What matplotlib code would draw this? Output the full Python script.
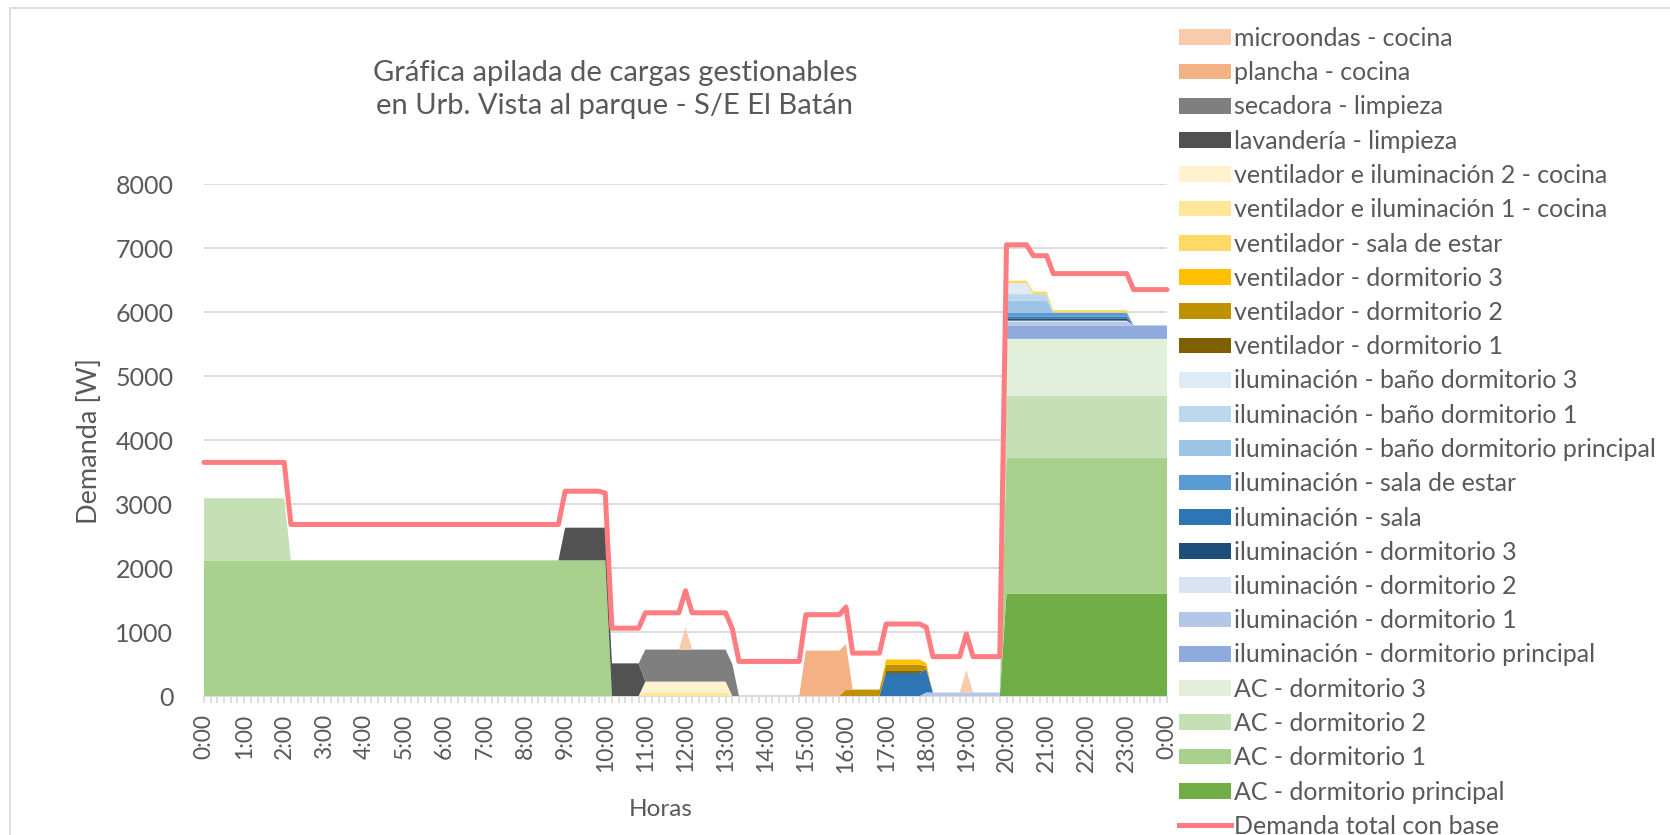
import matplotlib
matplotlib.use('Agg')
import matplotlib.pyplot as plt
from matplotlib.patches import Patch, Rectangle
from matplotlib.lines import Line2D
import numpy as np

plt.rcParams['font.family'] = ['Lato', 'DejaVu Sans']

# eje x: 0:00 a 0:00 en pasos de 10 minutos (145 puntos)
horas = np.arange(145) / 6
etiquetas_horas = ['%d:00' % (h % 24) for h in range(25)]

# cargas gestionables [W], de abajo hacia arriba en la pila
ac_principal = [0] * 120 + [1600] * 25
ac_dorm1 = [2120] * 61 + [0] * 59 + [2120] * 25
ac_dorm2 = [970] * 13 + [0] * 107 + [970] * 25
ac_dorm3 = [0] * 120 + [890] * 25
il_dorm_principal = [0] * 120 + [210] * 25
il_dorm1 = [0] * 108 + [55] * 31 + [0] * 6
il_dorm2 = [0] * 120 + [20] * 19 + [0] * 6
il_dorm3 = [0] * 120 + [35] * 19 + [0] * 6
il_sala = [0] * 102 + [360] * 7 + [0] * 11 + [30] * 19 + [0] * 6
il_sala_estar = [0] * 120 + [60] * 19 + [0] * 6
bano_principal = [0] * 120 + [190] * 7 + [0] * 18
bano_dorm1 = [0] * 120 + [100] * 7 + [0] * 18
bano_dorm3 = [0] * 120 + [170] * 4 + [0] * 21
vent_dorm1 = [0] * 102 + [30] * 6 + [0] * 37
vent_dorm2 = [0] * 96 + [100] * 12 + [50] + [0] * 36
vent_dorm3 = [0] * 102 + [80] * 6 + [50] + [0] * 36
vent_sala_estar = [0] * 120 + [40] * 19 + [0] * 6
vent_ilum1 = [0] * 66 + [50] * 13 + [0] * 66
vent_ilum2 = [0] * 66 + [175] * 13 + [0] * 66
lavanderia = [0] * 54 + [510] * 12 + [0] * 79
secadora = [0] * 66 + [500] * 14 + [0] * 65
plancha = [0] * 90 + [710] * 7 + [0] * 48
microondas = [0] * 72 + [350] + [0] * 41 + [350] + [0] * 30

# demanda total con base [W]
demanda_total = ([3650] * 13 + [2680] * 41 + [3200] * 6 + [3170] + [1060] * 5 +
                 [1300] * 6 + [1645] + [1300] * 6 + [1050] + [540] * 10 +
                 [1270] * 6 + [1390] + [670] * 5 + [1125] * 6 + [1075] +
                 [615] * 5 + [970] + [615] * 5 + [7050] * 4 + [6880] * 3 +
                 [6600] * 12 + [6350] * 6)

series = [ac_principal, ac_dorm1, ac_dorm2, ac_dorm3, il_dorm_principal,
          il_dorm1, il_dorm2, il_dorm3, il_sala, il_sala_estar,
          bano_principal, bano_dorm1, bano_dorm3, vent_dorm1, vent_dorm2,
          vent_dorm3, vent_sala_estar, vent_ilum1, vent_ilum2, lavanderia,
          secadora, plancha, microondas]
nombres = ['AC - dormitorio principal', 'AC - dormitorio 1', 'AC - dormitorio 2',
           'AC - dormitorio 3', 'iluminación - dormitorio principal',
           'iluminación - dormitorio 1', 'iluminación - dormitorio 2',
           'iluminación - dormitorio 3', 'iluminación - sala',
           'iluminación - sala de estar', 'iluminación - baño dormitorio principal',
           'iluminación - baño dormitorio 1', 'iluminación - baño dormitorio 3',
           'ventilador - dormitorio 1', 'ventilador - dormitorio 2',
           'ventilador - dormitorio 3', 'ventilador - sala de estar',
           'ventilador e iluminación 1 - cocina', 'ventilador e iluminación 2 - cocina',
           'lavandería - limpieza', 'secadora - limpieza', 'plancha - cocina',
           'microondas - cocina']
colores = ['#70AD47', '#A9D18E', '#C5E0B4', '#E2EFDA', '#8FAADC',
           '#B4C7E7', '#DAE3F3', '#1F4E79', '#2E75B6', '#5B9BD5',
           '#9DC3E6', '#BDD7EE', '#DEEBF7', '#7F6000', '#BF9000',
           '#FFC000', '#FFD966', '#FFE699', '#FFF2CC', '#525252',
           '#7F7F7F', '#F4B183', '#F8CBAD']
color_linea = '#FF7C80'
gris = '#595959'
gris_claro = '#D9D9D9'

fig = plt.figure(figsize=(16.7, 8.35), dpi=100)
ax = fig.add_axes([204 / 1670, 1 - 696 / 835, 963 / 1670, 512 / 835])

ax.stackplot(horas, *series, colors=colores, linewidth=0, zorder=2)
ax.plot(horas, demanda_total, color=color_linea, linewidth=3.6,
        solid_capstyle='round', solid_joinstyle='round', zorder=3, clip_on=False)

ax.set_xlim(0, 24)
ax.set_ylim(0, 8000)
ax.set_yticks(range(0, 8001, 1000))
ax.yaxis.grid(True, color=gris_claro, linewidth=1.3, zorder=0)
ax.set_axisbelow(True)
for s in ['top', 'right', 'left']:
    ax.spines[s].set_visible(False)
ax.spines['bottom'].set_color(gris_claro)
ax.spines['bottom'].set_linewidth(1.3)
ax.spines['bottom'].set_zorder(1)

ax.set_xticks(range(25))
ax.set_xticklabels(etiquetas_horas, rotation=90)
ax.set_xticks(horas, minor=True)
ax.tick_params(axis='x', which='both', direction='out', length=5, width=1.2,
               color=gris_claro, labelsize=16.5, labelcolor=gris, pad=8)
ax.tick_params(axis='y', length=0, labelsize=18, labelcolor=gris, pad=22)

ax.set_xlabel('Horas', fontsize=17.5, color=gris)
ax.xaxis.set_label_coords((661 - 204) / 963, -(809 - 696) / 512)
ax.xaxis.label.set_va('center')
ax.set_ylabel('Demanda [W]', fontsize=19.5, color=gris)
ax.yaxis.set_label_coords((102 - 204) / 963, (696 - 441) / 512)

fig.text(615 / 1670, 1 - 89.5 / 835,
         'Gráfica apilada de cargas gestionables\nen Urb. Vista al parque - S/E El Batán',
         ha='center', va='center', fontsize=21, color=gris, linespacing=1.38)

# leyenda: de arriba hacia abajo como en la original
handles = [Patch(facecolor=c, edgecolor='none') for c in colores[::-1]]
handles.append(Line2D([0], [0], color=color_linea, linewidth=3.6))
labels = nombres[::-1] + ['Demanda total con base']
fig.legend(handles, labels, loc='upper left', bbox_to_anchor=(1179 / 1670, 1 - 27 / 835),
           frameon=False, fontsize=18, labelcolor=gris, handlelength=2.08,
           handleheight=0.59, handletextpad=0.12, labelspacing=0.45,
           borderaxespad=0, borderpad=0)

# borde del área del gráfico
fig.patches.append(Rectangle((10 / 1670, -0.05), 1.2, 1.05 - 8 / 835,
                             transform=fig.transFigure, fill=False,
                             edgecolor=gris_claro, linewidth=1.3))

fig.savefig('out.png', dpi=100)
